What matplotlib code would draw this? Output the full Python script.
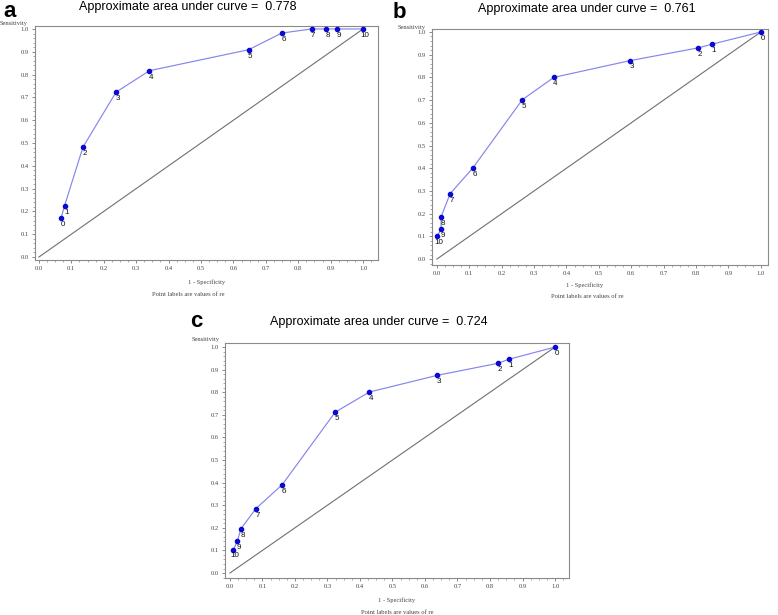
import matplotlib
matplotlib.use("Agg")
import matplotlib.pyplot as plt
from matplotlib.ticker import MultipleLocator, FormatStrFormatter

W, H = 778, 615

# ---- data ----
labels = ["0", "1", "2", "3", "4", "5", "6", "7", "8", "9", "10"]

a_x = [0.068, 0.079, 0.136, 0.238, 0.341, 0.647, 0.749, 0.841, 0.886, 0.920, 1.0]
a_y = [0.169, 0.224, 0.482, 0.723, 0.817, 0.909, 0.982, 1.0, 1.0, 1.0, 1.0]

b_x = [1.0, 0.849, 0.807, 0.597, 0.361, 0.264, 0.111, 0.041, 0.013, 0.013, 0.0]
b_y = [1.0, 0.946, 0.930, 0.874, 0.800, 0.702, 0.401, 0.288, 0.186, 0.131, 0.100]

c_x = [1.0, 0.858, 0.824, 0.638, 0.429, 0.324, 0.161, 0.080, 0.034, 0.023, 0.011]
c_y = [1.0, 0.946, 0.928, 0.875, 0.801, 0.712, 0.391, 0.285, 0.196, 0.141, 0.104]

panels = ["a", "b", "c"]
aucs = ["0.778", "0.761", "0.724"]
xticks = [0.0, 0.1, 0.2, 0.3, 0.4, 0.5, 0.6, 0.7, 0.8, 0.9, 1.0]
yticks = [0.0, 0.1, 0.2, 0.3, 0.4, 0.5, 0.6, 0.7, 0.8, 0.9, 1.0]

# ---- layout (pixels) ----
cfg = [
    dict(box=(35, 378, 26, 260), xlim=(-0.012, 1.046), ylim=(-0.013, 1.013),
         letter=(3, 17), title=(188, 7), sens=(0, 24), xl=(207, 282), pl=(188, 294)),
    dict(box=(432, 768, 29, 265), xlim=(-0.015, 1.022), ylim=(-0.026, 1.013),
         letter=(393, 18), title=(587, 9), sens=(398, 27), xl=(585, 285), pl=(587, 296)),
    dict(box=(225, 569, 343, 578), xlim=(-0.015, 1.043), ylim=(-0.022, 1.018),
         letter=(190, 327), title=(379, 322), sens=(192, 340), xl=(397, 600), pl=(397, 612)),
]
data = [(a_x, a_y), (b_x, b_y), (c_x, c_y)]

fig = plt.figure(figsize=(W / 100, H / 100), dpi=100)
fig.patch.set_facecolor("white")

small = dict(family="Liberation Serif", fontsize=4.7, color="#444444")

for i, c in enumerate(cfg):
    l, r, t, b = c["box"]
    ax = fig.add_axes([l / W, 1 - b / H, (r - l) / W, (b - t) / H])
    xs, ys = data[i]
    ax.plot([0, 1], [0, 1], color="#707070", lw=0.8, zorder=1)
    ax.plot(xs, ys, color="#8585ee", lw=0.85, zorder=2)
    ax.plot(xs, ys, "o", color="#0a0ad0", ms=3.0, zorder=3, lw=0)
    for x, y, lab in zip(xs, ys, labels):
        ax.annotate(lab, (x, y), xytext=(1.2, -4.6), textcoords="offset points",
                    ha="center", va="center", fontsize=5.8, family="Liberation Sans",
                    color="#111111")
    ax.set_xlim(*c["xlim"])
    ax.set_ylim(*c["ylim"])
    ax.set_xticks(xticks)
    ax.set_yticks(yticks)
    ax.xaxis.set_major_formatter(FormatStrFormatter("%.1f"))
    ax.yaxis.set_major_formatter(FormatStrFormatter("%.1f"))
    ax.xaxis.set_minor_locator(MultipleLocator(0.025))
    ax.yaxis.set_minor_locator(MultipleLocator(0.02))
    ax.tick_params(which="major", direction="out", length=2.5, width=0.6,
                   color="#777777", labelsize=4.7, labelcolor="#444444", pad=1.8)
    ax.tick_params(which="minor", direction="out", length=1.3, width=0.5, color="#888888")
    for lab in ax.get_xticklabels() + ax.get_yticklabels():
        lab.set_family("Liberation Serif")
    for s in ax.spines.values():
        s.set_color("#8a8a8a")
        s.set_linewidth(0.8)

    fig.text(c["letter"][0] / W, 1 - c["letter"][1] / H, panels[i], fontsize=16,
             fontweight="bold", family="Liberation Sans", ha="left", va="baseline")
    fig.text(c["title"][0] / W, 1 - c["title"][1] / H,
             "Approximate area under curve =  " + aucs[i], fontsize=9,
             family="Liberation Sans", ha="center", va="center")
    fig.text(c["sens"][0] / W, 1 - c["sens"][1] / H, "Sensitivity", ha="left",
             va="center", **small)
    fig.text(c["xl"][0] / W, 1 - c["xl"][1] / H, "1 - Specificity", ha="center",
             va="center", **small)
    fig.text(c["pl"][0] / W, 1 - c["pl"][1] / H, "Point labels are values of re",
             ha="center", va="center", **small)

fig.savefig("out.png", dpi=100)
